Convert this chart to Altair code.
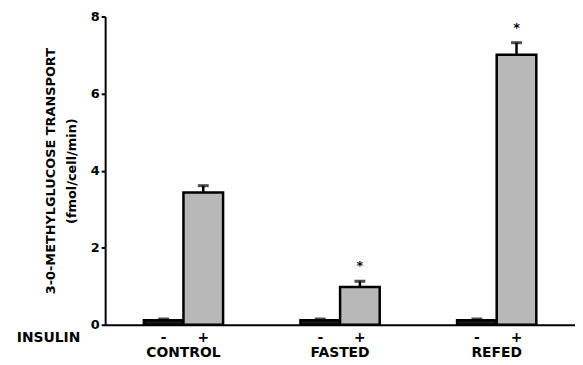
import altair as alt
import pandas as pd

groups = ["CONTROL", "FASTED", "REFED"]
insulin = ["-", "+"]
values_minus = [0.12, 0.12, 0.12]
err_minus = [0.03, 0.03, 0.03]
values_plus = [3.43, 0.98, 7.01]
err_plus = [0.18, 0.15, 0.31]
significant = [False, True, True]

rows = []
for i, g in enumerate(groups):
    rows.append({"group": g, "insulin": "-", "value": values_minus[i],
                 "top": values_minus[i] + err_minus[i], "sig": False})
    rows.append({"group": g, "insulin": "+", "value": values_plus[i],
                 "top": values_plus[i] + err_plus[i], "sig": significant[i]})
df = pd.DataFrame(rows)

FONT = "DejaVu Sans"

xaxis = alt.Axis(title=None, labelAngle=0, ticks=False, domainWidth=2,
                 domainColor="black", labelFontSize=14,
                 labelFontWeight="bold", labelPadding=21,
                 labelColor="black", labelFont=FONT, grid=False)
x = alt.X("group:N", sort=groups,
          scale=alt.Scale(paddingInner=0.494, paddingOuter=0.247), axis=xaxis)
xo = alt.XOffset("insulin:N", sort=insulin, scale=alt.Scale(paddingInner=0, paddingOuter=0))
yscale = alt.Scale(domain=[0, 8], nice=False)
yaxis = alt.Axis(values=[0, 2, 4, 6, 8], grid=False, domainWidth=2,
                 domainColor="black", tickColor="black", tickWidth=2,
                 tickSize=4, labelPadding=2, labelFontSize=13,
                 labelFontWeight="bold", labelColor="black",
                 labelFont=FONT,
                 title=["3-0-METHYLGLUCOSE  TRANSPORT", "(fmol/cell/min)"],
                 titleFontSize=13, titleFontWeight="bold",
                 titleLineHeight=21,
                 titleColor="black", titleFont=FONT, titlePadding=12)

base = alt.Chart(df)

bars = base.mark_bar(stroke="black", strokeWidth=2.5).encode(
    x=x, xOffset=xo,
    y=alt.Y("value:Q", scale=yscale, axis=yaxis),
    color=alt.Color("insulin:N", scale=alt.Scale(domain=insulin, range=["#1a1a1a", "#b8b8b8"]),
                    legend=None),
)

errs = base.mark_rule(strokeWidth=2.5, color="black").encode(
    x=x, xOffset=xo, y=alt.Y("value:Q", scale=yscale, axis=yaxis), y2="top:Q")

caps = base.mark_tick(orient="horizontal", size=11, thickness=3, color="black").encode(
    x=x, xOffset=xo, y=alt.Y("top:Q", scale=yscale, axis=yaxis))

stars = base.transform_filter("datum.sig").mark_text(
    text="*", dy=-15, fontSize=13, fontWeight="bold", font=FONT, color="black").encode(
    x=x, xOffset=xo, y=alt.Y("top:Q", scale=yscale, axis=yaxis))

signs = base.mark_text(dy=13, fontSize=14, fontWeight="bold", font=FONT,
                       color="black", baseline="middle").encode(
    x=x, xOffset=xo, y=alt.Y(datum=0, scale=yscale, axis=yaxis), text="insulin:N")

insulin_lbl = alt.Chart(pd.DataFrame({"t": ["INSULIN"]})).mark_text(
    align="right", baseline="middle", fontSize=14, fontWeight="bold",
    font=FONT, color="black").encode(
    x=alt.value(-25), y=alt.value(324), text="t:N")

chart = alt.layer(bars, errs, caps, stars, signs, insulin_lbl).properties(
    width=474, height=311,
    autosize=alt.AutoSizeParams(type="none"),
    padding={"left": 98, "top": 7, "right": 0, "bottom": 38},
).configure_view(stroke="transparent", strokeWidth=0).configure_axis(grid=False)

chart.save("out.html", embed_options={"renderer": "svg", "actions": False})
